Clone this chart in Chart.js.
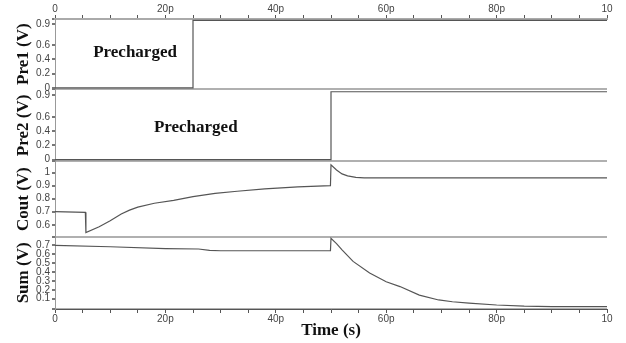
<!DOCTYPE html>
<html>
<head>
<meta charset="utf-8">
<script src="https://cdn.jsdelivr.net/npm/chart.js@4.4.1/dist/chart.umd.min.js"></script>
<style>
  html, body { margin: 0; padding: 0; background: #fff; }
  #wrap { width: 626px; height: 343px; }
</style>
</head>
<body>
<div id="wrap"><canvas id="chart"></canvas></div>
<script>
// time in ps, values in volts
const pre1Time = [0, 25, 25, 100];
const pre1Volts = [0, 0, 0.95, 0.95];

const pre2Time = [0, 50, 50, 100];
const pre2Volts = [0, 0, 0.95, 0.95];

const coutTime = [0, 5.5, 5.6, 8, 10, 12, 13.5, 15, 18, 21.5, 25, 29, 33, 38, 44, 49.9, 50, 51, 52, 53, 54.5, 56, 100];
const coutVolts = [0.70, 0.695, 0.54, 0.585, 0.63, 0.682, 0.712, 0.735, 0.765, 0.787, 0.815, 0.84, 0.857, 0.875, 0.89, 0.9, 1.06, 1.02, 0.99, 0.975, 0.963, 0.96, 0.96];

const sumTime = [0, 10, 20, 26, 28, 30, 49.9, 50, 51, 52, 54, 57, 60, 62.5, 66, 69.5, 72, 75, 80, 85, 90, 100];
const sumVolts = [0.70, 0.685, 0.665, 0.66, 0.645, 0.64, 0.64, 0.78, 0.72, 0.65, 0.52, 0.39, 0.29, 0.236, 0.14, 0.085, 0.065, 0.05, 0.028, 0.015, 0.01, 0.01];

const timeTicks = [0, 20, 40, 60, 80, 100];
const timeLabels = ['0', '20p', '40p', '60p', '80p', '10'];
const preTicks = [0, 0.2, 0.4, 0.6, 0.9];
const coutTicks = [0.6, 0.7, 0.8, 0.9, 1];
const sumTicks = [0.1, 0.2, 0.3, 0.4, 0.5, 0.6, 0.7];

const tickFont = { family: 'Liberation Sans', size: 10 };
const titleFont = { family: 'Liberation Serif', size: 17, weight: 'bold' };

const points = (xs, ys) => xs.map((x, i) => ({ x: x, y: ys[i] }));

function trace(data, axis) {
  return {
    data: data,
    yAxisID: axis,
    xAxisID: 'x',
    borderColor: '#555',
    borderWidth: 1.2,
    pointRadius: 0,
    tension: 0,
    fill: false
  };
}

function panelAxis(title, min, max, majors, order, share) {
  return {
    type: 'linear',
    position: 'left',
    stack: 'panels',
    stackWeight: share,
    weight: order,
    min: min,
    max: max,
    afterBuildTicks: axis => {
      axis.ticks = [min, ...majors, max].map(v => ({ value: v }));
    },
    afterFit: axis => { axis.width = 55; },
    ticks: {
      autoSkip: false,
      font: tickFont,
      color: '#444',
      padding: 2,
      callback: v => majors.includes(v) ? String(v) : ''
    },
    grid: {
      color: c => (c.tick && (c.tick.value === min || c.tick.value === max)) ? '#b0b0b0' : 'rgba(0,0,0,0)',
      lineWidth: 2,
      tickColor: '#777',
      tickLength: 3
    },
    border: { color: '#999', width: 1 },
    title: { display: true, text: title, font: titleFont, color: '#111', padding: { top: 13, bottom: 0 } }
  };
}

function timeAxis(pos, height) {
  return {
    type: 'linear',
    position: pos,
    min: 0,
    max: 100,
    afterBuildTicks: axis => {
      const t = [];
      for (let v = 0; v <= 100; v += 5) t.push({ value: v });
      axis.ticks = t;
    },
    afterFit: axis => { axis.height = height; },
    ticks: {
      autoSkip: false,
      maxRotation: 0,
      font: tickFont,
      color: '#444',
      padding: 0,
      callback: v => {
        const i = timeTicks.indexOf(v);
        return i >= 0 ? timeLabels[i] : '';
      }
    },
    grid: { drawOnChartArea: false, tickColor: '#555', tickLength: 4 },
    border: pos === 'top' ? { color: '#aaa', width: 2 } : { color: '#555', width: 1 }
  };
}

const notesPlugin = {
  id: 'notes',
  afterDatasetsDraw(chart) {
    const c = chart.ctx;
    const x = chart.scales.x;
    c.save();
    c.font = 'bold 17px "Liberation Serif"';
    c.fillStyle = '#111';
    c.textAlign = 'center';
    c.textBaseline = 'middle';
    c.fillText('Precharged', x.getPixelForValue(14.5), chart.scales.yPre1.getPixelForValue(0.5));
    c.fillText('Precharged', x.getPixelForValue(25.5), chart.scales.yPre2.getPixelForValue(0.45));
    c.restore();
  }
};

const xBottom = timeAxis('bottom', 34);
xBottom.title = { display: true, text: 'Time (s)', font: titleFont, color: '#111', padding: { top: 0, bottom: 2 } };

new Chart(document.getElementById('chart'), {
  type: 'line',
  data: {
    datasets: [
      trace(points(pre1Time, pre1Volts), 'yPre1'),
      trace(points(pre2Time, pre2Volts), 'yPre2'),
      trace(points(coutTime, coutVolts), 'yCout'),
      trace(points(sumTime, sumVolts), 'ySum')
    ]
  },
  options: {
    responsive: true,
    maintainAspectRatio: false,
    animation: false,
    layout: { padding: { left: 0, right: 19, top: 0, bottom: 0 } },
    plugins: { legend: { display: false }, tooltip: { enabled: false } },
    scales: {
      x: xBottom,
      x2: timeAxis('top', 19),
      yPre1: panelAxis('Pre1 (V)', -0.02, 0.97, preTicks, 4, 70),
      yPre2: panelAxis('Pre2 (V)', -0.025, 0.985, preTicks, 3, 72),
      yCout: panelAxis('Cout (V)', 0.508, 1.085, coutTicks, 2, 75),
      ySum: panelAxis('Sum (V)', -0.017, 0.798, sumTicks, 1, 72)
    }
  },
  plugins: [notesPlugin]
});
</script>
</body>
</html>
